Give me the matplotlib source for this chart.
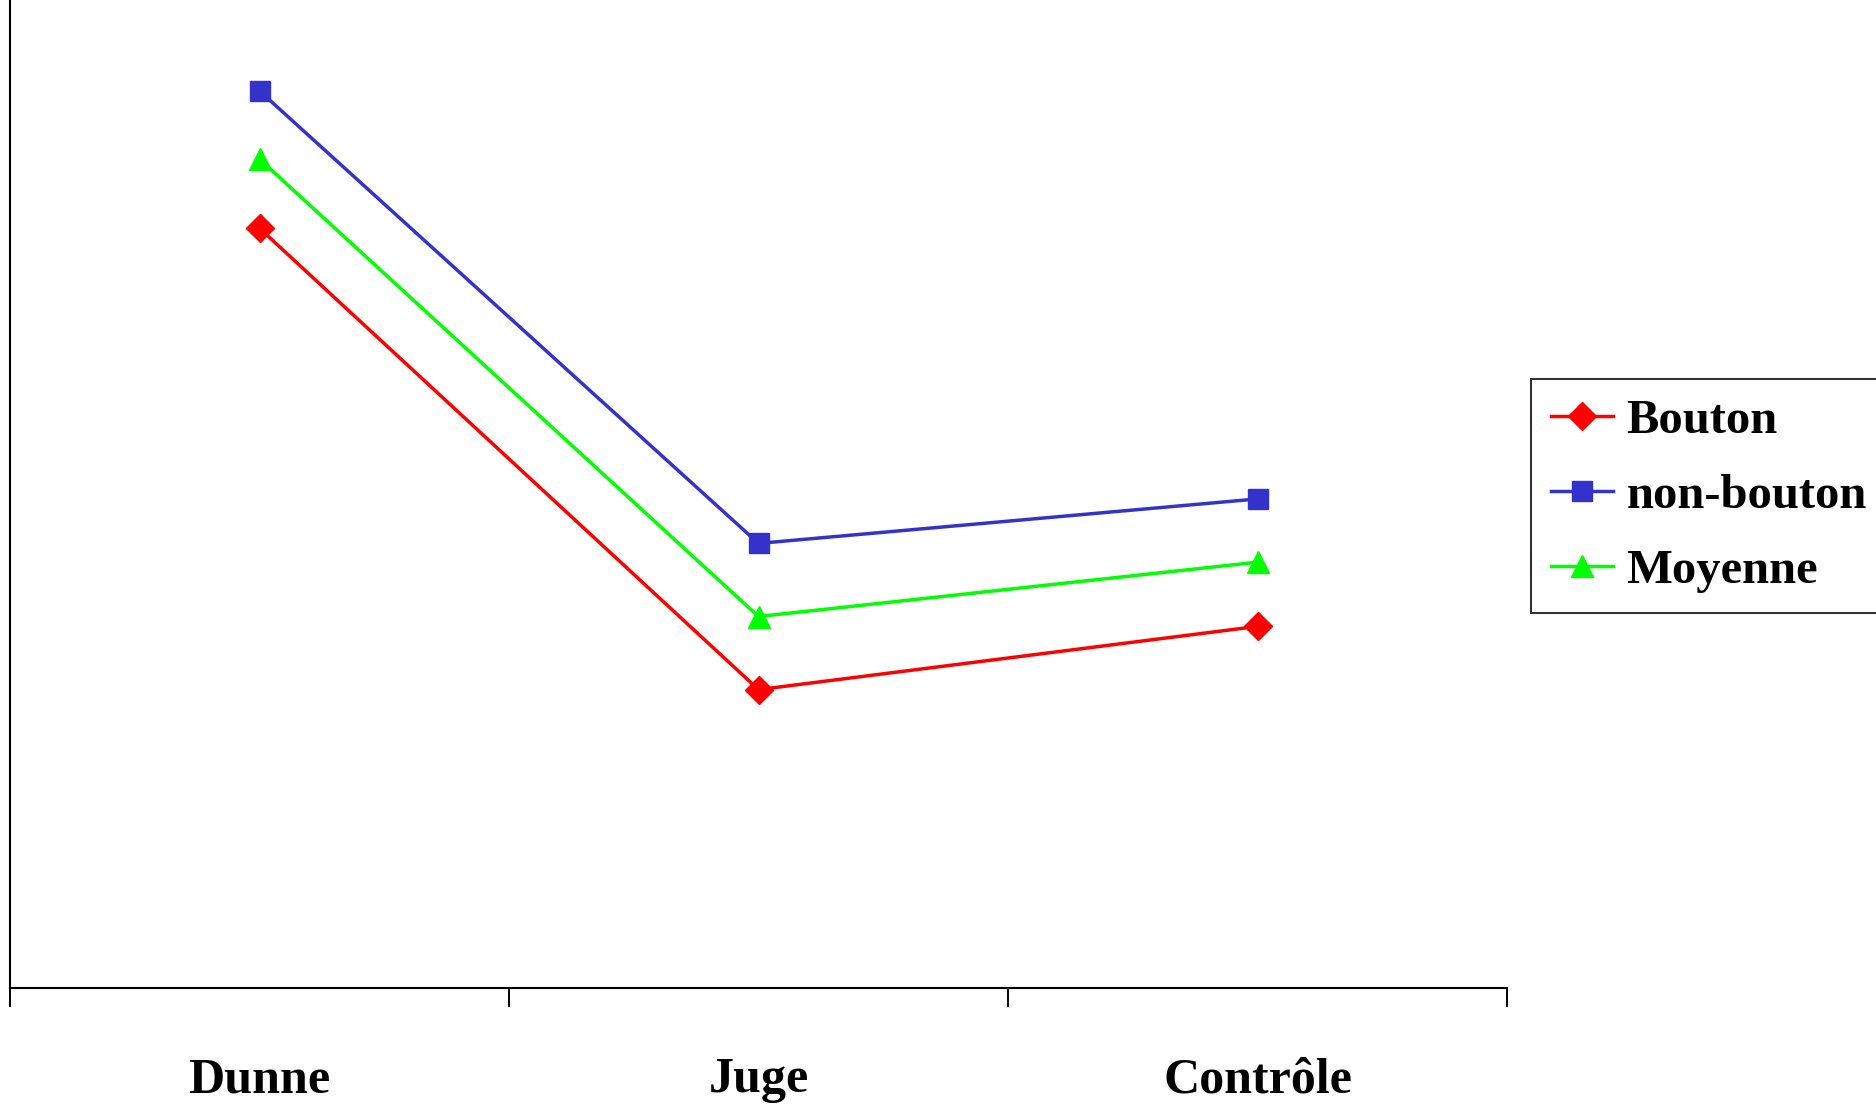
import matplotlib
matplotlib.use("Agg")
import matplotlib.pyplot as plt

plt.rcParams.update({
    "font.family": ["Liberation Serif", "DejaVu Serif"],
    "font.weight": "bold",
})

sites = ["Dunne", "Juge", "Contrôle"]
bouton = [76.9, 30.2, 36.6]
non_bouton = [90.8, 45.0, 49.5]
moyenne = [83.9, 37.6, 43.1]

RED = "#FF0000"; BLUE = "#3333CC"; GREEN = "#00FF00"

fig = plt.figure(figsize=(18.76, 11.09), dpi=100)
ax = fig.add_axes([10 / 1876, 1 - 988 / 1109, 1497 / 1876, 988 / 1109])

xpos = [i + 0.5 for i in range(len(sites))]
ax.plot(xpos, bouton, color=RED, lw=2.5, marker="D", ms=14, label="Bouton")
ax.plot(xpos, non_bouton, color=BLUE, lw=2.5, marker="s", ms=14.5, label="non-bouton")
ax.plot(xpos, moyenne, color=GREEN, lw=2.5, marker="^", ms=16, label="Moyenne")

ax.set_xlim(0, len(sites))
ax.set_ylim(0, 100)
ax.set_yticks([])
ax.set_xticks(range(len(sites) + 1))
ax.set_xticklabels([])
ax.set_xticks(xpos, minor=True)
ax.set_xticklabels(sites, minor=True, fontsize=36, fontweight="bold")
ax.tick_params(axis="x", which="major", direction="out", length=13.5, width=1.4, color="black")
ax.tick_params(axis="x", which="minor", length=0, pad=50)
for side in ["top", "right"]:
    ax.spines[side].set_visible(False)
for side in ["left", "bottom"]:
    ax.spines[side].set_linewidth(1.5)
    ax.spines[side].set_color("black")

leg = ax.legend(loc="upper left", bbox_to_anchor=(1531 / 1876, 1 - 379 / 1109),
                bbox_transform=fig.transFigure, fontsize=35, frameon=True, fancybox=False,
                handlelength=1.27, handletextpad=0.27, borderpad=0.42, labelspacing=0.63,
                borderaxespad=0)
leg.get_frame().set_edgecolor("black")
leg.get_frame().set_linewidth(1.5)
for t in leg.get_texts():
    t.set_fontweight("bold")

fig.savefig("out.png", dpi=100)
